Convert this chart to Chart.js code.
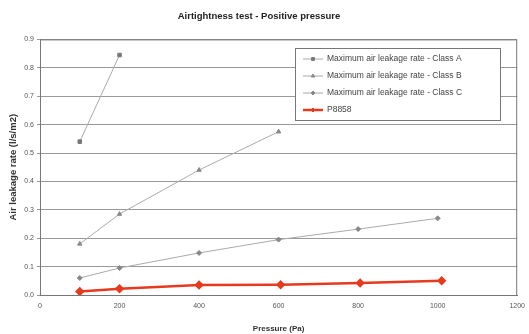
<!DOCTYPE html>
<html>
<head>
    <title>Airtightness test</title>
    <script src="https://cdn.jsdelivr.net/npm/chart.js"></script>
    <style>
        body { margin: 0; background: #fff; }
    </style>
</head>
<body>
    <div style="width: 529px; height: 334px;">
        <canvas id="myChart"></canvas>
    </div>
    <script>
        // values
        const pressureA = [100, 200];
        const classA = [0.54, 0.845];
        const pressureB = [100, 200, 400, 600];
        const classB = [0.18, 0.285, 0.44, 0.575];
        const pressureC = [100, 200, 400, 600, 800, 1000];
        const classC = [0.06, 0.095, 0.148, 0.195, 0.232, 0.27];
        const pressureP = [100, 200, 400, 605, 805, 1010];
        const p8858 = [0.012, 0.022, 0.035, 0.036, 0.042, 0.05];
        const seriesNames = [
            'Maximum air leakage rate - Class A',
            'Maximum air leakage rate - Class B',
            'Maximum air leakage rate - Class C',
            'P8858'
        ];

        const pts = (xs, ys) => xs.map((x, i) => ({ x: x, y: ys[i] }));
        const font = 'Liberation Sans, Arial, sans-serif';

        // legend box drawn inside the plot
        const boxLegend = {
            id: 'boxLegend',
            afterDraw(chart) {
                const ctx = chart.ctx;
                const x0 = 295, y0 = 48, w = 205, h = 72;
                ctx.save();
                ctx.fillStyle = '#fff';
                ctx.fillRect(x0, y0, w, h);
                ctx.strokeStyle = '#777';
                ctx.lineWidth = 1;
                ctx.strokeRect(x0 + 0.5, y0 + 0.5, w, h);
                chart.data.datasets.forEach((ds, i) => {
                    const cy = y0 + 11 + i * 17;
                    ctx.strokeStyle = ds.borderColor;
                    ctx.lineWidth = ds.borderWidth;
                    ctx.beginPath();
                    ctx.moveTo(x0 + 8, cy);
                    ctx.lineTo(x0 + 28, cy);
                    ctx.stroke();
                    ctx.fillStyle = ds.backgroundColor;
                    ctx.strokeStyle = ds.pointBorderColor;
                    ctx.lineWidth = 1;
                    Chart.helpers.drawPoint(ctx, {
                        pointStyle: ds.pointStyle,
                        radius: 2,
                        rotation: 0,
                        borderWidth: 1
                    }, x0 + 18, cy);
                    ctx.fillStyle = '#444';
                    ctx.font = '8.5px ' + font;
                    ctx.textBaseline = 'middle';
                    ctx.fillText(ds.label, x0 + 32, cy);
                });
                ctx.restore();
            }
        };

        const ctx = document.getElementById('myChart').getContext('2d');
        const myChart = new Chart(ctx, {
            type: 'scatter',
            data: {
                datasets: [{
                    label: seriesNames[0],
                    data: pts(pressureA, classA),
                    showLine: true,
                    borderColor: '#aaa',
                    backgroundColor: '#777',
                    pointBorderColor: '#777',
                    borderWidth: 1,
                    pointStyle: 'rect',
                    pointRadius: 2.5
                }, {
                    label: seriesNames[1],
                    data: pts(pressureB, classB),
                    showLine: true,
                    borderColor: '#aaa',
                    backgroundColor: '#888',
                    pointBorderColor: '#888',
                    borderWidth: 1,
                    pointStyle: 'triangle',
                    pointRadius: 2.5
                }, {
                    label: seriesNames[2],
                    data: pts(pressureC, classC),
                    showLine: true,
                    borderColor: '#aaa',
                    backgroundColor: '#888',
                    pointBorderColor: '#888',
                    borderWidth: 1,
                    pointStyle: 'rectRot',
                    pointRadius: 2.5
                }, {
                    label: seriesNames[3],
                    data: pts(pressureP, p8858),
                    showLine: true,
                    borderColor: '#e63a1e',
                    backgroundColor: '#e63a1e',
                    pointBorderColor: '#e63a1e',
                    borderWidth: 2.5,
                    pointStyle: 'rectRot',
                    pointRadius: 3
                }]
            },
            options: {
                responsive: true,
                maintainAspectRatio: false,
                animation: false,
                layout: { padding: { left: 0, right: 11, top: 0, bottom: 0 } },
                plugins: {
                    legend: { display: false },
                    tooltip: { enabled: false },
                    title: {
                        display: true,
                        text: 'Airtightness test - Positive pressure',
                        color: '#222',
                        font: { family: font, size: 9.5, weight: 'bold' },
                        padding: { top: 11, bottom: 17 }
                    }
                },
                scales: {
                    x: {
                        type: 'linear',
                        min: 0,
                        max: 1200,
                        ticks: {
                            stepSize: 200,
                            color: '#555',
                            font: { family: font, size: 7 },
                            padding: 4,
                            callback: v => String(v)
                        },
                        grid: { display: false, drawTicks: true, tickLength: 3 },
                        border: { color: '#777' },
                        title: {
                            display: true,
                            text: 'Pressure (Pa)',
                            color: '#333',
                            font: { family: font, size: 8, weight: 'bold' },
                            padding: { top: 10, bottom: 0 }
                        },
                        afterFit(scale) { scale.height = 39; }
                    },
                    y: {
                        min: 0,
                        max: 0.9,
                        ticks: {
                            stepSize: 0.1,
                            color: '#555',
                            font: { family: font, size: 7 },
                            padding: 3,
                            callback: v => v.toFixed(1)
                        },
                        grid: { color: '#999', lineWidth: 1, tickLength: 3 },
                        border: { color: '#777' },
                        title: {
                            display: true,
                            text: 'Air leakage rate (l/s/m2)',
                            color: '#333',
                            font: { family: font, size: 9.5, weight: 'bold' },
                            padding: { top: 8, bottom: 0 }
                        },
                        afterFit(scale) { scale.width = 40; }
                    }
                }
            },
            plugins: [boxLegend, {
                id: 'frame',
                afterDatasetsDraw(chart) {
                    const a = chart.chartArea, c = chart.ctx;
                    c.save();
                    c.strokeStyle = '#777';
                    c.lineWidth = 1;
                    c.beginPath();
                    c.moveTo(a.left, a.top + 0.5);
                    c.lineTo(a.right - 0.5, a.top + 0.5);
                    c.lineTo(a.right - 0.5, a.bottom);
                    c.stroke();
                    c.restore();
                }
            }]
        });
    </script>
</body>
</html>
